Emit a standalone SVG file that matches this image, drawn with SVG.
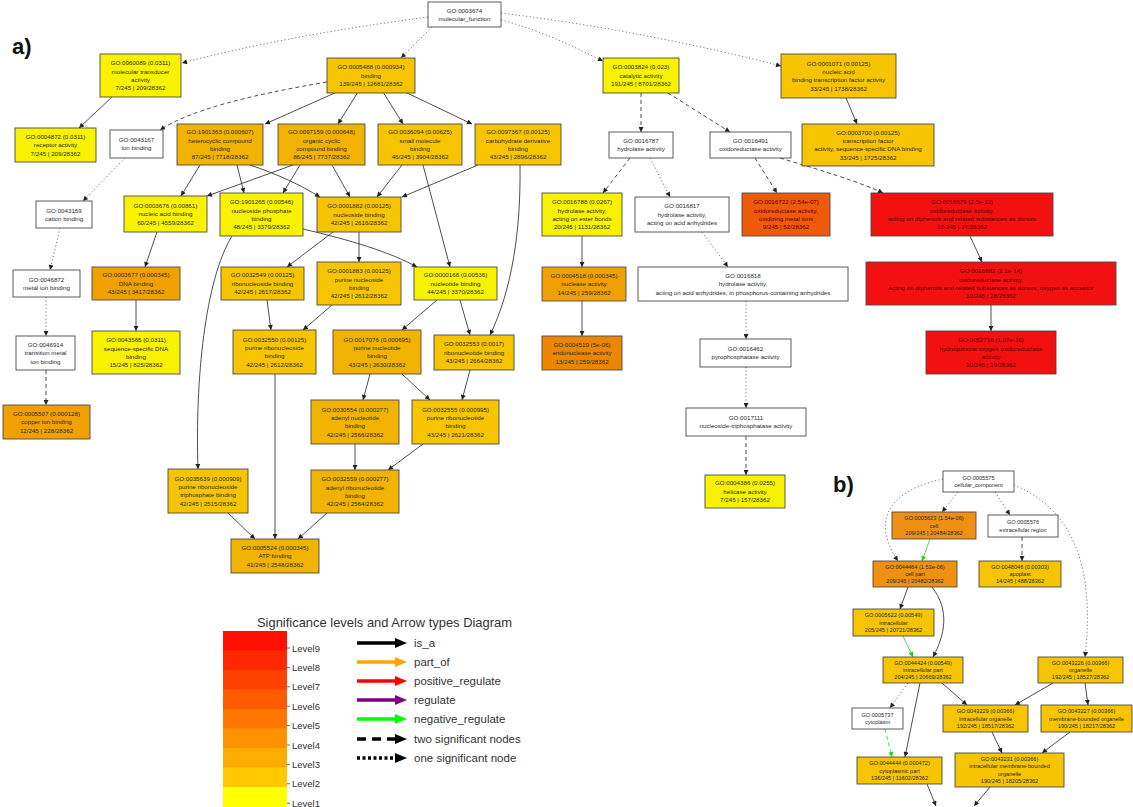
<svg xmlns="http://www.w3.org/2000/svg" width="1133" height="807" viewBox="0 0 1133 807">
<style>
rect.n{stroke:#4a4a4a;stroke-width:0.9}
.w{fill:#ffffff}.y{fill:#f8f200}.g{fill:#f6c400}.o{fill:#f2b200}.o2{fill:#f0a000}.o3{fill:#ec8600}.o4{fill:#f09012}.or{fill:#ee5a0a}.r{fill:#f21010}
text.t{font-family:"Liberation Sans",Arial,sans-serif;font-size:6.2px;fill:#2a2a2a;text-anchor:middle}
text.tb{font-family:"Liberation Sans",Arial,sans-serif;font-size:5.6px;fill:#2a2a2a;text-anchor:middle}
text.tr{fill:#5a0000}
.e{fill:none;stroke:#3a3a3a;stroke-width:0.9;marker-end:url(#ah)}
.da{stroke-dasharray:4,3}
.do{stroke-dasharray:1.2,2.4;stroke:#666}
.gr{stroke:#30e030;marker-end:url(#ahg)}
.lab{font-family:"Liberation Sans",Arial,sans-serif;fill:#333}
</style>
<defs>
<marker id="ah" viewBox="0 0 10 10" refX="10" refY="5" markerWidth="6" markerHeight="5" markerUnits="userSpaceOnUse" orient="auto"><path d="M0,0 L10,5 L0,10 z" fill="#222"/></marker>
<marker id="ahg" viewBox="0 0 10 10" refX="10" refY="5" markerWidth="6" markerHeight="5" markerUnits="userSpaceOnUse" orient="auto"><path d="M0,0 L10,5 L0,10 z" fill="#20d020"/></marker>
</defs>
<rect width="1133" height="807" fill="#ffffff"/>
<text x="12" y="54" class="lab" style="font-size:22px;font-weight:bold;fill:#111">a)</text>
<text x="833" y="492" class="lab" style="font-size:22px;font-weight:bold;fill:#111">b)</text>

<g id="connectors">
<path class="e do" d="M428,17 C330,30 250,45 182,63"/>
<path class="e do" d="M432,27 L401,58"/>
<path class="e do" d="M501,20 C540,30 570,45 603,61"/>
<path class="e do" d="M501,13 C600,25 700,45 781,66"/>
<path class="e da" d="M327,82 C250,95 190,110 160,130"/>
<path class="e" d="M112,97 L79,128"/>
<path class="e" d="M846,98 L857,124"/>
<path class="e" d="M337,92 L265,124"/>
<path class="e" d="M358,92 L338,124"/>
<path class="e" d="M383,92 L403,124"/>
<path class="e" d="M405,92 L472,124"/>
<path class="e da" d="M641,93 L641,132"/>
<path class="e da" d="M668,93 L730,132"/>
<path class="e do" d="M125,158 L83,201"/>
<path class="e do" d="M60,228 L50,270"/>
<path class="e do" d="M46,297 L46,336"/>
<path class="e da" d="M46,370 L46,405"/>
<path class="e" d="M200,165 L181,196"/>
<path class="e" d="M293,165 L207,196"/>
<path class="e" d="M237,165 L244,193"/>
<path class="e" d="M300,165 L283,193"/>
<path class="e" d="M250,165 C280,175 300,185 320,197"/>
<path class="e" d="M332,165 L350,197"/>
<path class="e" d="M402,165 L377,197"/>
<path class="e" d="M478,165 L402,197"/>
<path class="e" d="M423,165 L450,267"/>
<path class="e" d="M520,165 C521,230 512,290 490,335"/>
<path class="e" d="M303,229 C350,240 390,252 417,267"/>
<path class="e" d="M232,236 C205,280 195,380 198,469"/>
<path class="e" d="M157,232 L145,267"/>
<path class="e" d="M136,300 L136,331"/>
<path class="e" d="M333,232 L287,267"/>
<path class="e" d="M359,232 L359,262"/>
<path class="e" d="M267,300 L271,330"/>
<path class="e" d="M332,305 L303,330"/>
<path class="e" d="M437,300 L402,330"/>
<path class="e" d="M460,300 L470,335"/>
<path class="e" d="M275,374 L275,539"/>
<path class="e" d="M370,374 L363,400"/>
<path class="e" d="M402,374 L430,400"/>
<path class="e" d="M470,370 L462,400"/>
<path class="e" d="M355,444 L355,470"/>
<path class="e" d="M423,444 L388,470"/>
<path class="e" d="M228,513 L255,539"/>
<path class="e" d="M327,513 L298,539"/>
<path class="e da" d="M630,158 L603,193"/>
<path class="e do" d="M650,158 L670,197"/>
<path class="e da" d="M755,158 L777,193"/>
<path class="e da" d="M780,158 C820,170 860,182 883,193"/>
<path class="e" d="M582,236 L582,267"/>
<path class="e" d="M582,301 L582,336"/>
<path class="e do" d="M702,232 L728,267"/>
<path class="e do" d="M746,301 L746,339"/>
<path class="e do" d="M746,367 L746,408"/>
<path class="e da" d="M746,436 L746,475"/>
<path class="e" d="M970,236 L982,262"/>
<path class="e" d="M991,305 L991,331"/>
<path class="e do" d="M958,492 L942,512"/>
<path class="e do" d="M995,492 L1010,515"/>
<path class="e do" d="M943,479 C890,490 870,520 898,561"/>
<path class="e do" d="M1014,485 C1075,510 1095,570 1085,657"/>
<path class="e gr" d="M930,539 L922,561"/>
<path class="e da" d="M1022,537 L1022,561"/>
<path class="e" d="M908,587 L900,609"/>
<path class="e" d="M932,587 C950,610 945,635 933,657"/>
<path class="e gr" d="M903,636 L913,657"/>
<path class="e do" d="M908,683 L890,708"/>
<path class="e" d="M920,683 L905,757"/>
<path class="e gr da" d="M885,729 L892,757"/>
<path class="e" d="M942,683 L967,705"/>
<path class="e" d="M1053,683 L1015,705"/>
<path class="e" d="M1085,683 L1088,705"/>
<path class="e" d="M992,732 L1002,753"/>
<path class="e" d="M1070,732 L1042,753"/>
<path class="e" d="M927,784 L936,806"/>
<path class="e" d="M990,787 L974,806"/>
</g>

<g id="n0"><rect class="n w" x="428" y="2" width="73" height="25"/><text class="t" x="464.5" y="12.5"><tspan x="464.5">GO:0003674</tspan><tspan x="464.5" dy="8.3">molecular_function</tspan></text></g>
<g id="n1"><rect class="n y" x="100" y="54" width="81" height="43"/><text class="t" x="140.5" y="65.25"><tspan x="140.5">GO:0060089 (0.0311)</tspan><tspan x="140.5" dy="8.3">molecular transducer</tspan><tspan x="140.5" dy="8.3">activity</tspan><tspan x="140.5" dy="8.3">7/245 | 209/28362</tspan></text></g>
<g id="n2"><rect class="n g" x="327" y="58" width="88" height="35"/><text class="t" x="371" y="69.4"><tspan x="371">GO:0005488 (0.000934)</tspan><tspan x="371" dy="8.3">binding</tspan><tspan x="371" dy="8.3">139/245 | 12681/28362</tspan></text></g>
<g id="n3"><rect class="n y" x="603" y="58" width="76" height="35"/><text class="t" x="641" y="69.4"><tspan x="641">GO:0003824 (0.023)</tspan><tspan x="641" dy="8.3">catalytic activity</tspan><tspan x="641" dy="8.3">191/245 | 8701/28362</tspan></text></g>
<g id="n4"><rect class="n g" x="781" y="54" width="115" height="44"/><text class="t" x="838.5" y="65.75"><tspan x="838.5">GO:0001071 (0.00125)</tspan><tspan x="838.5" dy="8.3">nucleic acid</tspan><tspan x="838.5" dy="8.3">binding transcription factor activity</tspan><tspan x="838.5" dy="8.3">33/245 | 1738/28362</tspan></text></g>
<g id="n5"><rect class="n y" x="15" y="128" width="81" height="34"/><text class="t" x="55.5" y="138.9"><tspan x="55.5">GO:0004872 (0.0311)</tspan><tspan x="55.5" dy="8.3">receptor activity</tspan><tspan x="55.5" dy="8.3">7/245 | 209/28362</tspan></text></g>
<g id="n6"><rect class="n w" x="110" y="130" width="53" height="28"/><text class="t" x="136.5" y="142"><tspan x="136.5">GO:0043167</tspan><tspan x="136.5" dy="8.3">ion binding</tspan></text></g>
<g id="n7"><rect class="n o" x="177" y="124" width="86" height="41"/><text class="t" x="220" y="134.25"><tspan x="220">GO:1901363 (0.000607)</tspan><tspan x="220" dy="8.3">heterocyclic compound</tspan><tspan x="220" dy="8.3">binding</tspan><tspan x="220" dy="8.3">87/245 | 7718/28362</tspan></text></g>
<g id="n8"><rect class="n o" x="278" y="124" width="87" height="41"/><text class="t" x="321.5" y="134.25"><tspan x="321.5">GO:0097159 (0.000648)</tspan><tspan x="321.5" dy="8.3">organic cyclic</tspan><tspan x="321.5" dy="8.3">compound binding</tspan><tspan x="321.5" dy="8.3">86/245 | 7737/28362</tspan></text></g>
<g id="n9"><rect class="n g" x="378" y="124" width="84" height="41"/><text class="t" x="420" y="134.25"><tspan x="420">GO:0036094 (0.00625)</tspan><tspan x="420" dy="8.3">small molecule</tspan><tspan x="420" dy="8.3">binding</tspan><tspan x="420" dy="8.3">46/245 | 3904/28362</tspan></text></g>
<g id="n10"><rect class="n g" x="475" y="124" width="86" height="41"/><text class="t" x="518" y="134.25"><tspan x="518">GO:0097367 (0.00125)</tspan><tspan x="518" dy="8.3">carbohydrate derivative</tspan><tspan x="518" dy="8.3">binding</tspan><tspan x="518" dy="8.3">43/245 | 2896/28362</tspan></text></g>
<g id="n11"><rect class="n w" x="609" y="132" width="64" height="26"/><text class="t" x="641" y="143"><tspan x="641">GO:0016787</tspan><tspan x="641" dy="8.3">hydrolase activity</tspan></text></g>
<g id="n12"><rect class="n w" x="710" y="132" width="81" height="26"/><text class="t" x="750.5" y="143"><tspan x="750.5">GO:0016491</tspan><tspan x="750.5" dy="8.3">oxidoreductase activity</tspan></text></g>
<g id="n13"><rect class="n g" x="802" y="124" width="132" height="42"/><text class="t" x="868" y="134.75"><tspan x="868">GO:0003700 (0.00125)</tspan><tspan x="868" dy="8.3">transcription factor</tspan><tspan x="868" dy="8.3">activity, sequence-specific DNA binding</tspan><tspan x="868" dy="8.3">33/245 | 1725/28362</tspan></text></g>
<g id="n14"><rect class="n w" x="36" y="201" width="56" height="27"/><text class="t" x="64" y="212.5"><tspan x="64">GO:0043169</tspan><tspan x="64" dy="8.3">cation binding</tspan></text></g>
<g id="n15"><rect class="n y" x="124" y="196" width="83" height="36"/><text class="t" x="165.5" y="207.9"><tspan x="165.5">GO:0003676 (0.00861)</tspan><tspan x="165.5" dy="8.3">nucleic acid binding</tspan><tspan x="165.5" dy="8.3">60/245 | 4559/28362</tspan></text></g>
<g id="n16"><rect class="n y" x="220" y="193" width="83" height="43"/><text class="t" x="261.5" y="204.25"><tspan x="261.5">GO:1901265 (0.00546)</tspan><tspan x="261.5" dy="8.3">nucleoside phosphate</tspan><tspan x="261.5" dy="8.3">binding</tspan><tspan x="261.5" dy="8.3">48/245 | 3379/28362</tspan></text></g>
<g id="n17"><rect class="n g" x="317" y="197" width="84" height="35"/><text class="t" x="359" y="208.4"><tspan x="359">GO:0001882 (0.00125)</tspan><tspan x="359" dy="8.3">nucleoside binding</tspan><tspan x="359" dy="8.3">42/245 | 2616/28362</tspan></text></g>
<g id="n18"><rect class="n y" x="542" y="193" width="80" height="43"/><text class="t" x="582" y="204.25"><tspan x="582">GO:0016788 (0.0267)</tspan><tspan x="582" dy="8.3">hydrolase activity,</tspan><tspan x="582" dy="8.3">acting on ester bonds</tspan><tspan x="582" dy="8.3">20/245 | 1131/28362</tspan></text></g>
<g id="n19"><rect class="n w" x="635" y="197" width="94" height="35"/><text class="t" x="682" y="208.4"><tspan x="682">GO:0016817</tspan><tspan x="682" dy="8.3">hydrolase activity,</tspan><tspan x="682" dy="8.3">acting on acid anhydrides</tspan></text></g>
<g id="n20"><rect class="n or" x="742" y="193" width="88" height="43"/><text class="t tr" x="786" y="204.25"><tspan x="786">GO:0016722 (2.54e-07)</tspan><tspan x="786" dy="8.3">oxidoreductase activity,</tspan><tspan x="786" dy="8.3">oxidizing metal ions</tspan><tspan x="786" dy="8.3">9/245 | 52/28362</tspan></text></g>
<g id="n21"><rect class="n r" x="871" y="193" width="182" height="43"/><text class="t tr" x="962" y="204.25"><tspan x="962">GO:0016679 (2.5e-11)</tspan><tspan x="962" dy="8.3">oxidoreductase activity,</tspan><tspan x="962" dy="8.3">acting on diphenols and related substances as donors</tspan><tspan x="962" dy="8.3">10/245 | 37/28362</tspan></text></g>
<g id="n22"><rect class="n r" x="866" y="262" width="250" height="43"/><text class="t tr" x="991" y="273.25"><tspan x="991">GO:0016682 (2.1e-14)</tspan><tspan x="991" dy="8.3">oxidoreductase activity,</tspan><tspan x="991" dy="8.3">acting on diphenols and related substances as donors, oxygen as acceptor</tspan><tspan x="991" dy="8.3">10/245 | 28/28362</tspan></text></g>
<g id="n23"><rect class="n r" x="926" y="331" width="130" height="43"/><text class="t tr" x="991" y="342.25"><tspan x="991">GO:0052716 (1.07e-16)</tspan><tspan x="991" dy="8.3">hydroquinone:oxygen oxidoreductase</tspan><tspan x="991" dy="8.3">activity</tspan><tspan x="991" dy="8.3">10/245 | 19/28362</tspan></text></g>
<g id="n24"><rect class="n w" x="13" y="270" width="67" height="27"/><text class="t" x="46.5" y="281.5"><tspan x="46.5">GO:0046872</tspan><tspan x="46.5" dy="8.3">metal ion binding</tspan></text></g>
<g id="n25"><rect class="n o2" x="92" y="267" width="88" height="33"/><text class="t" x="136" y="277.4"><tspan x="136">GO:0003677 (0.000345)</tspan><tspan x="136" dy="8.3">DNA binding</tspan><tspan x="136" dy="8.3">43/245 | 3417/28362</tspan></text></g>
<g id="n26"><rect class="n g" x="221" y="267" width="83" height="33"/><text class="t" x="262.5" y="277.4"><tspan x="262.5">GO:0032549 (0.00125)</tspan><tspan x="262.5" dy="8.3">ribonucleoside binding</tspan><tspan x="262.5" dy="8.3">42/245 | 2617/28362</tspan></text></g>
<g id="n27"><rect class="n g" x="317" y="262" width="84" height="43"/><text class="t" x="359" y="273.25"><tspan x="359">GO:0001883 (0.00125)</tspan><tspan x="359" dy="8.3">purine nucleoside</tspan><tspan x="359" dy="8.3">binding</tspan><tspan x="359" dy="8.3">42/245 | 2612/28362</tspan></text></g>
<g id="n28"><rect class="n y" x="414" y="267" width="83" height="33"/><text class="t" x="455.5" y="277.4"><tspan x="455.5">GO:0000166 (0.00536)</tspan><tspan x="455.5" dy="8.3">nucleotide binding</tspan><tspan x="455.5" dy="8.3">44/245 | 3370/28362</tspan></text></g>
<g id="n29"><rect class="n o2" x="542" y="267" width="84" height="34"/><text class="t" x="584" y="277.9"><tspan x="584">GO:0004518 (0.000345)</tspan><tspan x="584" dy="8.3">nuclease activity</tspan><tspan x="584" dy="8.3">14/245 | 259/28362</tspan></text></g>
<g id="n30"><rect class="n w" x="638" y="267" width="210" height="34"/><text class="t" x="743" y="277.9"><tspan x="743">GO:0016818</tspan><tspan x="743" dy="8.3">hydrolase activity,</tspan><tspan x="743" dy="8.3">acting on acid anhydrides, in phosphorus-containing anhydrides</tspan></text></g>
<g id="n31"><rect class="n w" x="16" y="336" width="59" height="34"/><text class="t" x="45.5" y="346.9"><tspan x="45.5">GO:0046914</tspan><tspan x="45.5" dy="8.3">transition metal</tspan><tspan x="45.5" dy="8.3">ion binding</tspan></text></g>
<g id="n32"><rect class="n y" x="92" y="331" width="88" height="43"/><text class="t" x="136" y="342.25"><tspan x="136">GO:0043565 (0.0311)</tspan><tspan x="136" dy="8.3">sequence-specific DNA</tspan><tspan x="136" dy="8.3">binding</tspan><tspan x="136" dy="8.3">15/245 | 825/28362</tspan></text></g>
<g id="n33"><rect class="n g" x="233" y="330" width="83" height="44"/><text class="t" x="274.5" y="341.75"><tspan x="274.5">GO:0032550 (0.00125)</tspan><tspan x="274.5" dy="8.3">purine ribonucleoside</tspan><tspan x="274.5" dy="8.3">binding</tspan><tspan x="274.5" dy="8.3">42/245 | 2612/28362</tspan></text></g>
<g id="n34"><rect class="n o" x="333" y="330" width="88" height="44"/><text class="t" x="377" y="341.75"><tspan x="377">GO:0017076 (0.000695)</tspan><tspan x="377" dy="8.3">purine nucleotide</tspan><tspan x="377" dy="8.3">binding</tspan><tspan x="377" dy="8.3">43/245 | 2630/28362</tspan></text></g>
<g id="n35"><rect class="n g" x="434" y="335" width="80" height="35"/><text class="t" x="474" y="346.4"><tspan x="474">GO:0032553 (0.0017)</tspan><tspan x="474" dy="8.3">ribonucleotide binding</tspan><tspan x="474" dy="8.3">43/245 | 2664/28362</tspan></text></g>
<g id="n36"><rect class="n o3" x="542" y="336" width="80" height="34"/><text class="t" x="582" y="346.9"><tspan x="582">GO:0004519 (5e-06)</tspan><tspan x="582" dy="8.3">endonuclease activity</tspan><tspan x="582" dy="8.3">13/245 | 259/28362</tspan></text></g>
<g id="n37"><rect class="n w" x="700" y="339" width="91" height="28"/><text class="t" x="745.5" y="351"><tspan x="745.5">GO:0016462</tspan><tspan x="745.5" dy="8.3">pyrophosphatase activity</tspan></text></g>
<g id="n38"><rect class="n o2" x="3" y="405" width="87" height="34"/><text class="t" x="46.5" y="415.9"><tspan x="46.5">GO:0005507 (0.000128)</tspan><tspan x="46.5" dy="8.3">copper ion binding</tspan><tspan x="46.5" dy="8.3">12/245 | 228/28362</tspan></text></g>
<g id="n39"><rect class="n o" x="311" y="400" width="88" height="44"/><text class="t" x="355" y="411.75"><tspan x="355">GO:0030554 (0.000277)</tspan><tspan x="355" dy="8.3">adenyl nucleotide</tspan><tspan x="355" dy="8.3">binding</tspan><tspan x="355" dy="8.3">42/245 | 2566/28362</tspan></text></g>
<g id="n40"><rect class="n g" x="412" y="400" width="87" height="44"/><text class="t" x="455.5" y="411.75"><tspan x="455.5">GO:0032555 (0.000995)</tspan><tspan x="455.5" dy="8.3">purine ribonucleotide</tspan><tspan x="455.5" dy="8.3">binding</tspan><tspan x="455.5" dy="8.3">43/245 | 2621/28362</tspan></text></g>
<g id="n41"><rect class="n w" x="686" y="408" width="120" height="28"/><text class="t" x="746" y="420"><tspan x="746">GO:0017111</tspan><tspan x="746" dy="8.3">nucleoside-triphosphatase activity</tspan></text></g>
<g id="n42"><rect class="n g" x="168" y="469" width="80" height="44"/><text class="t" x="208" y="480.75"><tspan x="208">GO:0035639 (0.000909)</tspan><tspan x="208" dy="8.3">purine ribonucleoside</tspan><tspan x="208" dy="8.3">triphosphate binding</tspan><tspan x="208" dy="8.3">42/245 | 2515/28362</tspan></text></g>
<g id="n43"><rect class="n o" x="311" y="470" width="88" height="43"/><text class="t" x="355" y="481.25"><tspan x="355">GO:0032559 (0.000277)</tspan><tspan x="355" dy="8.3">adenyl ribonucleotide</tspan><tspan x="355" dy="8.3">binding</tspan><tspan x="355" dy="8.3">42/245 | 2564/28362</tspan></text></g>
<g id="n44"><rect class="n y" x="705" y="475" width="80" height="33"/><text class="t" x="745" y="485.4"><tspan x="745">GO:0004386 (0.0255)</tspan><tspan x="745" dy="8.3">helicase activity</tspan><tspan x="745" dy="8.3">7/245 | 157/28362</tspan></text></g>
<g id="n45"><rect class="n o" x="231" y="539" width="88" height="34"/><text class="t" x="275" y="549.9"><tspan x="275">GO:0005524 (0.000345)</tspan><tspan x="275" dy="8.3">ATP binding</tspan><tspan x="275" dy="8.3">41/245 | 2548/28362</tspan></text></g>

<g id="b0"><rect class="n w" x="943" y="471" width="71" height="21"/><text class="tb" x="978.5" y="479.9"><tspan x="978.5">GO:0005575</tspan><tspan x="978.5" dy="7.2">cellular_component</tspan></text></g>
<g id="b1"><rect class="n o4" x="892" y="512" width="84" height="27"/><text class="tb" x="934" y="520.3"><tspan x="934">GO:0005623 (1.54e-06)</tspan><tspan x="934" dy="7.2">cell</tspan><tspan x="934" dy="7.2">209/245 | 20484/28362</tspan></text></g>
<g id="b2"><rect class="n w" x="988" y="515" width="70" height="22"/><text class="tb" x="1023" y="524.4"><tspan x="1023">GO:0005576</tspan><tspan x="1023" dy="7.2">extracellular region</tspan></text></g>
<g id="b3"><rect class="n o4" x="873" y="561" width="84" height="26"/><text class="tb" x="915" y="568.8"><tspan x="915">GO:0044464 (1.53e-06)</tspan><tspan x="915" dy="7.2">cell part</tspan><tspan x="915" dy="7.2">209/245 | 20482/28362</tspan></text></g>
<g id="b4"><rect class="n g" x="979" y="561" width="82" height="26"/><text class="tb" x="1020" y="568.8"><tspan x="1020">GO:0048046 (0.00303)</tspan><tspan x="1020" dy="7.2">apoplast</tspan><tspan x="1020" dy="7.2">14/245 | 488/28362</tspan></text></g>
<g id="b5"><rect class="n g" x="853" y="609" width="81" height="27"/><text class="tb" x="893.5" y="617.3"><tspan x="893.5">GO:0005622 (0.00549)</tspan><tspan x="893.5" dy="7.2">intracellular</tspan><tspan x="893.5" dy="7.2">205/245 | 20721/28362</tspan></text></g>
<g id="b6"><rect class="n g" x="883" y="657" width="80" height="26"/><text class="tb" x="923" y="664.8"><tspan x="923">GO:0044424 (0.00549)</tspan><tspan x="923" dy="7.2">intracellular part</tspan><tspan x="923" dy="7.2">204/245 | 20669/28362</tspan></text></g>
<g id="b7"><rect class="n g" x="1038" y="657" width="85" height="26"/><text class="tb" x="1080.5" y="664.8"><tspan x="1080.5">GO:0043226 (0.00366)</tspan><tspan x="1080.5" dy="7.2">organelle</tspan><tspan x="1080.5" dy="7.2">192/245 | 18527/28362</tspan></text></g>
<g id="b8"><rect class="n w" x="852" y="708" width="51" height="21"/><text class="tb" x="877.5" y="716.9"><tspan x="877.5">GO:0005737</tspan><tspan x="877.5" dy="7.2">cytoplasm</tspan></text></g>
<g id="b9"><rect class="n g" x="943" y="705" width="85" height="27"/><text class="tb" x="985.5" y="713.3"><tspan x="985.5">GO:0043229 (0.00366)</tspan><tspan x="985.5" dy="7.2">intracellular organelle</tspan><tspan x="985.5" dy="7.2">192/245 | 18517/28362</tspan></text></g>
<g id="b10"><rect class="n g" x="1041" y="705" width="91" height="27"/><text class="tb" x="1086.5" y="713.3"><tspan x="1086.5">GO:0043227 (0.00366)</tspan><tspan x="1086.5" dy="7.2">membrane-bounded organelle</tspan><tspan x="1086.5" dy="7.2">190/245 | 18217/28362</tspan></text></g>
<g id="b11"><rect class="n g" x="857" y="757" width="85" height="27"/><text class="tb" x="899.5" y="765.3"><tspan x="899.5">GO:0044444 (0.000472)</tspan><tspan x="899.5" dy="7.2">cytoplasmic part</tspan><tspan x="899.5" dy="7.2">136/245 | 11602/28362</tspan></text></g>
<g id="b12"><rect class="n g" x="955" y="753" width="109" height="34"/><text class="tb" x="1009.5" y="761.2"><tspan x="1009.5">GO:0043231 (0.00366)</tspan><tspan x="1009.5" dy="7.2">intracellular membrane-bounded</tspan><tspan x="1009.5" dy="7.2">organelle</tspan><tspan x="1009.5" dy="7.2">190/245 | 18205/28362</tspan></text></g>

<g id="legend">
<text x="257" y="627" class="lab" style="font-size:13px" textLength="255" lengthAdjust="spacingAndGlyphs">Significance levels and Arrow types Diagram</text>
<rect x="223" y="631" width="64" height="20" fill="#ff1000"/>
<rect x="223" y="650.5" width="64" height="20" fill="#ff2800"/>
<rect x="223" y="670" width="64" height="20" fill="#ff4200"/>
<rect x="223" y="689.5" width="64" height="20" fill="#ff5c00"/>
<rect x="223" y="709" width="64" height="20" fill="#ff7600"/>
<rect x="223" y="728.5" width="64" height="20" fill="#ff9200"/>
<rect x="223" y="748" width="64" height="20" fill="#ffac00"/>
<rect x="223" y="767.5" width="64" height="20" fill="#ffc800"/>
<rect x="223" y="787" width="64" height="20" fill="#ffff00"/>
<g stroke="#444" stroke-width="0.8">
<path d="M287,648 h3 M287,667.4 h3 M287,686.8 h3 M287,706.2 h3 M287,725.6 h3 M287,745 h3 M287,764.4 h3 M287,783.8 h3 M287,803.2 h3"/>
</g>
<g class="lab" style="font-size:9.5px">
<text x="292" y="651.5">Level9</text>
<text x="292" y="670.9">Level8</text>
<text x="292" y="690.3">Level7</text>
<text x="292" y="709.7">Level6</text>
<text x="292" y="729.1">Level5</text>
<text x="292" y="748.5">Level4</text>
<text x="292" y="767.9">Level3</text>
<text x="292" y="787.3">Level2</text>
<text x="292" y="806.7">Level1</text>
</g>
<g stroke-width="3.5">
<line x1="357" y1="643" x2="396" y2="643" stroke="#000"/><polygon points="395,638 407,643 395,648" fill="#000"/>
<line x1="357" y1="662" x2="396" y2="662" stroke="#ffa500"/><polygon points="395,657 407,662 395,667" fill="#ffa500"/>
<line x1="357" y1="681" x2="396" y2="681" stroke="#ff0000"/><polygon points="395,676 407,681 395,686" fill="#ff0000"/>
<line x1="357" y1="700" x2="396" y2="700" stroke="#800080"/><polygon points="395,695 407,700 395,705" fill="#800080"/>
<line x1="357" y1="719" x2="396" y2="719" stroke="#00ff00"/><polygon points="395,714 407,719 395,724" fill="#00ff00"/>
<line x1="357" y1="739" x2="398" y2="739" stroke="#000" stroke-dasharray="9,6"/><polygon points="395,734 407,739 395,744" fill="#000"/>
<line x1="357" y1="758" x2="396" y2="758" stroke="#000" stroke-dasharray="3,2.5"/><polygon points="395,753 407,758 395,763" fill="#000"/>
</g>
<g class="lab" style="font-size:11.5px">
<text x="414" y="647">is_a</text>
<text x="414" y="666">part_of</text>
<text x="414" y="685">positive_regulate</text>
<text x="414" y="704">regulate</text>
<text x="414" y="723">negative_regulate</text>
<text x="414" y="743">two significant nodes</text>
<text x="414" y="762">one significant node</text>
</g>
</g>
</svg>
